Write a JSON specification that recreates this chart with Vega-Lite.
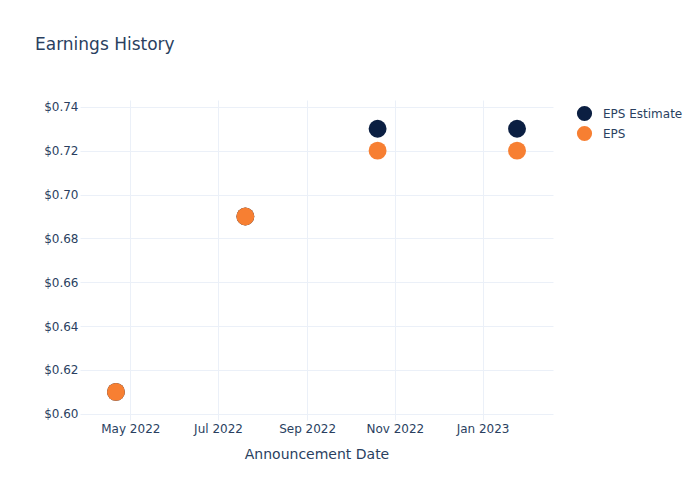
{
  "$schema": "https://vega.github.io/schema/vega-lite/v6.json",
  "width": 473,
  "height": 320,
  "autosize": {"type": "none"},
  "padding": {"left": 80, "top": 100, "right": 147, "bottom": 80},
  "background": "white",
  "title": {
    "text": "Earnings History",
    "anchor": "start",
    "frame": "group",
    "dx": -45,
    "offset": 46,
    "fontSize": 17,
    "font": "DejaVu Sans",
    "fontWeight": "normal",
    "color": "#2a3f5f"
  },
  "config": {
    "view": {"stroke": null},
    "font": "DejaVu Sans"
  },
  "data": {
    "values": [
      {"date": "2022-04-21", "series": "EPS Estimate", "value": 0.61},
      {"date": "2022-07-20", "series": "EPS Estimate", "value": 0.69},
      {"date": "2022-10-20", "series": "EPS Estimate", "value": 0.73},
      {"date": "2023-01-25", "series": "EPS Estimate", "value": 0.73},
      {"date": "2022-04-21", "series": "EPS", "value": 0.61},
      {"date": "2022-07-20", "series": "EPS", "value": 0.69},
      {"date": "2022-10-20", "series": "EPS", "value": 0.72},
      {"date": "2023-01-25", "series": "EPS", "value": 0.72}
    ]
  },
  "mark": {"type": "point", "filled": true, "size": 320, "opacity": 1},
  "encoding": {
    "x": {
      "field": "date",
      "type": "temporal",
      "scale": {
        "type": "utc",
        "domain": [
          {"year": 2022, "month": 3, "date": 27, "utc": true},
          {"year": 2023, "month": 2, "date": 19, "utc": true}
        ]
      },
      "axis": {
        "title": "Announcement Date",
        "titleFontSize": 14,
        "titleFontWeight": "normal",
        "titleColor": "#2a3f5f",
        "titlePadding": 13,
        "labelFontSize": 12,
        "labelColor": "#2a3f5f",
        "labelPadding": 3,
        "format": "%b %Y",
        "values": [
          {"year": 2022, "month": 5, "date": 1, "utc": true},
          {"year": 2022, "month": 7, "date": 1, "utc": true},
          {"year": 2022, "month": 9, "date": 1, "utc": true},
          {"year": 2022, "month": 11, "date": 1, "utc": true},
          {"year": 2023, "month": 1, "date": 1, "utc": true}
        ],
        "domain": false,
        "ticks": false,
        "gridColor": "#ebf0f8",
        "gridWidth": 1
      }
    },
    "y": {
      "field": "value",
      "type": "quantitative",
      "scale": {"domain": [0.5972, 0.7431], "nice": false, "zero": false},
      "axis": {
        "title": null,
        "format": "$.2f",
        "values": [0.60, 0.62, 0.64, 0.66, 0.68, 0.70, 0.72, 0.74],
        "labelFontSize": 12,
        "labelColor": "#2a3f5f",
        "labelPadding": 2,
        "domain": false,
        "ticks": false,
        "gridColor": "#ebf0f8",
        "gridWidth": 1
      }
    },
    "color": {
      "field": "series",
      "type": "nominal",
      "sort": ["EPS Estimate", "EPS"],
      "scale": {"domain": ["EPS Estimate", "EPS"], "range": ["#0b1f42", "#f77f32"]},
      "legend": {
        "title": null,
        "orient": "none",
        "legendX": 496,
        "legendY": 5,
        "labelFontSize": 12,
        "labelColor": "#2a3f5f",
        "symbolSize": 230,
        "symbolType": "circle",
        "rowPadding": 3,
        "labelOffset": 10
      }
    },
    "order": {"field": "series", "sort": "descending"}
  }
}
